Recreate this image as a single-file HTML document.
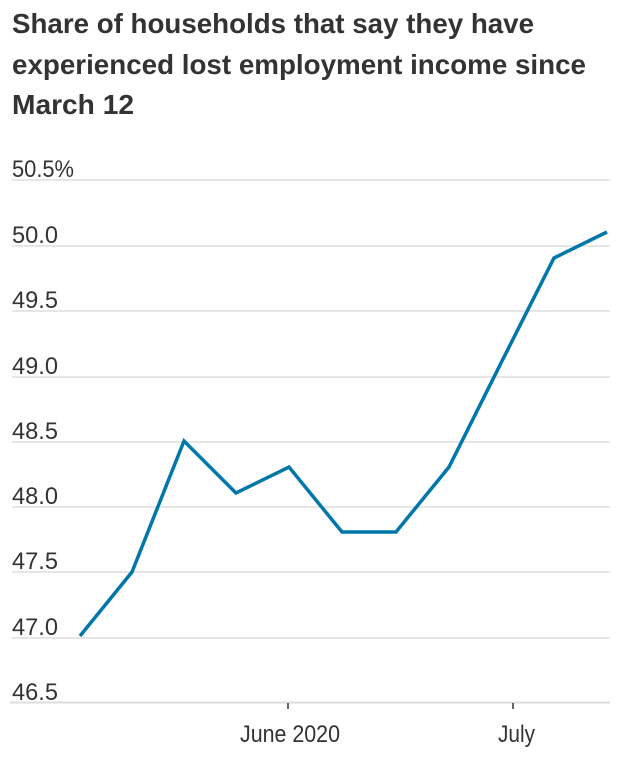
<!DOCTYPE html>
<html><head><meta charset="utf-8"><style>
body{margin:0;background:#fff;}
svg{display:block;}
</style></head><body>
<svg width="630" height="759" xmlns="http://www.w3.org/2000/svg" font-family="Liberation Sans, sans-serif">
<g font-weight="bold" font-size="28" fill="#333">
<text x="12" y="33" textLength="522" lengthAdjust="spacingAndGlyphs">Share of households that say they have</text>
<text x="12" y="74" textLength="574" lengthAdjust="spacingAndGlyphs">experienced lost employment income since</text>
<text x="12" y="114" textLength="122" lengthAdjust="spacingAndGlyphs">March 12</text>
</g>
<g stroke="#ddd" stroke-width="1.5">
<line x1="12" x2="610" y1="180" y2="180"/>
<line x1="12" x2="610" y1="246" y2="246"/>
<line x1="12" x2="610" y1="311" y2="311"/>
<line x1="12" x2="610" y1="377" y2="377"/>
<line x1="12" x2="610" y1="442" y2="442"/>
<line x1="12" x2="610" y1="507" y2="507"/>
<line x1="12" x2="610" y1="572" y2="572"/>
<line x1="12" x2="610" y1="638" y2="638"/>
</g>
<line x1="10" x2="610" y1="702.5" y2="702.5" stroke="#ddd" stroke-width="2"/>
<g stroke="#333" stroke-width="1.5"><line x1="288" x2="288" y1="703" y2="709"/><line x1="513" x2="513" y1="703" y2="709"/></g>
<g font-size="24" fill="#333">
<text x="12" y="177" textLength="62" lengthAdjust="spacingAndGlyphs">50.5%</text>
<text x="12" y="243" textLength="46" lengthAdjust="spacingAndGlyphs">50.0</text>
<text x="12" y="308" textLength="46" lengthAdjust="spacingAndGlyphs">49.5</text>
<text x="12" y="374" textLength="46" lengthAdjust="spacingAndGlyphs">49.0</text>
<text x="12" y="439" textLength="46" lengthAdjust="spacingAndGlyphs">48.5</text>
<text x="12" y="504" textLength="46" lengthAdjust="spacingAndGlyphs">48.0</text>
<text x="12" y="569" textLength="46" lengthAdjust="spacingAndGlyphs">47.5</text>
<text x="12" y="635" textLength="46" lengthAdjust="spacingAndGlyphs">47.0</text>
<text x="12" y="700" textLength="46" lengthAdjust="spacingAndGlyphs">46.5</text>
<text x="240" y="742" textLength="100" lengthAdjust="spacingAndGlyphs">June 2020</text>
<text x="498" y="742" textLength="37" lengthAdjust="spacingAndGlyphs">July</text>
</g>
<polyline fill="none" stroke="#0077aa" stroke-width="3.5" stroke-linejoin="miter"
points="80,636 132,572 184,441 236,493 289,467 342,532 396,532 449,467 501,363 554,258 607,232"/>
</svg>
</body></html>
